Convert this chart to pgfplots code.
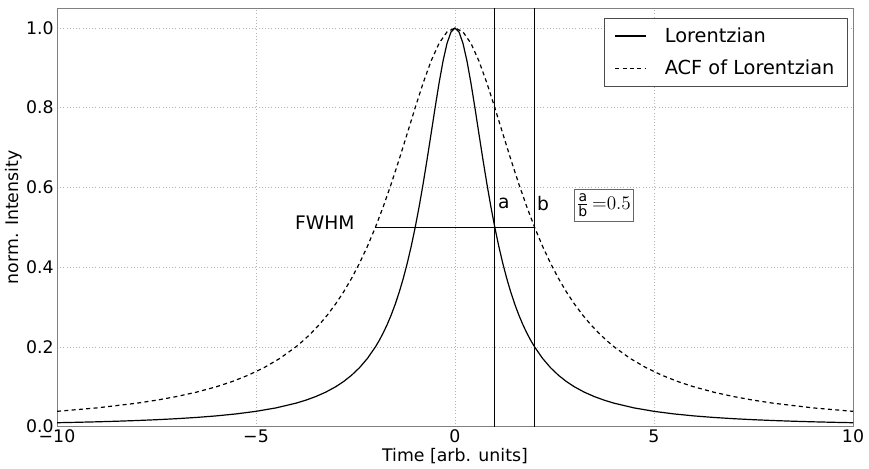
\documentclass[border=0pt]{standalone}
\usepackage{pgfplots}
\pgfplotsset{compat=1.18}
\usepackage{amsmath}
\usepackage{fontspec}
\setmainfont{DejaVu Sans}
\begin{document}
\begin{tikzpicture}
\begin{axis}[
  scale only axis,
  width=597pt, height=314pt,
  xmin=-10, xmax=10, ymin=0, ymax=1.05,
  xtick={-10,-5,0,5,10},
  xticklabels={−10,−5,0,5,10},
  ytick={0,0.2,0.4,0.6,0.8,1.0},
  yticklabel style={xshift=1pt, /pgf/number format/.cd, fixed, fixed zerofill, precision=1},
  /pgf/number format/assume math mode=true,
  ticklabel style={font=\fontsize{13}{15}\selectfont},
  label style={font=\fontsize{13}{15}\selectfont},
  xticklabel style={yshift=1.5pt},
  xlabel={Time [arb. units]},
  ylabel={norm. Intensity},
  xlabel style={yshift=2.5pt},
  ylabel style={yshift=-4pt},
  grid=major,
  major grid style={dotted, gray!60},
  axis line style={gray},
  tick style={draw=none},
  legend style={at={(1,1)}, anchor=north east, xshift=-3.75pt, yshift=-7.5pt,
    draw=black!70, font=\fontsize{14.5}{17}\selectfont, inner xsep=8pt, inner ysep=5pt,
    row sep=8pt, column sep=12pt},
  legend cell align=left,
  legend image code/.code={\draw[#1] (0cm,0cm) -- (0.8cm,0cm);},
]
\addplot[black, line width=0.9pt] coordinates {
(-10,0.009901)(-9.5,0.010959)(-9,0.012195)(-8.5,0.013652)(-8,0.015385)(-7.5,0.017467)(-7,0.02)(-6.5,0.023121)(-6,0.027027)(-5.5,0.032)(-5,0.038462)(-4.5,0.047059)(-4,0.058824)(-3.75,0.066390)(-3.5,0.075472)(-3.25,0.086486)(-3,0.1)(-2.8,0.113122)(-2.6,0.128866)(-2.4,0.147929)(-2.2,0.171233)(-2,0.2)(-1.9,0.216920)(-1.8,0.235849)(-1.7,0.257069)(-1.6,0.280899)(-1.5,0.307692)(-1.4,0.337838)(-1.3,0.371747)(-1.2,0.409836)(-1.1,0.452489)(-1,0.5)(-0.9,0.552486)(-0.8,0.609756)(-0.7,0.671141)(-0.6,0.735294)(-0.5,0.8)(-0.4,0.862069)(-0.3,0.917431)(-0.2,0.961538)(-0.1,0.990099)(0,1)
(0.1,0.990099)(0.2,0.961538)(0.3,0.917431)(0.4,0.862069)(0.5,0.8)(0.6,0.735294)(0.7,0.671141)(0.8,0.609756)(0.9,0.552486)(1,0.5)(1.1,0.452489)(1.2,0.409836)(1.3,0.371747)(1.4,0.337838)(1.5,0.307692)(1.6,0.280899)(1.7,0.257069)(1.8,0.235849)(1.9,0.216920)(2,0.2)(2.2,0.171233)(2.4,0.147929)(2.6,0.128866)(2.8,0.113122)(3,0.1)(3.25,0.086486)(3.5,0.075472)(3.75,0.066390)(4,0.058824)(4.5,0.047059)(5,0.038462)(5.5,0.032)(6,0.027027)(6.5,0.023121)(7,0.02)(7.5,0.017467)(8,0.015385)(8.5,0.013652)(9,0.012195)(9.5,0.010959)(10,0.009901)
};
\addlegendentry{Lorentzian}
\addplot[black, line width=0.9pt, dash pattern=on 3pt off 2.5pt] coordinates {
(-10,0.038462)(-9,0.047059)(-8,0.058824)(-7.5,0.066390)(-7,0.075472)(-6.5,0.086486)(-6,0.1)(-5.6,0.113122)(-5.2,0.128866)(-4.8,0.147929)(-4.4,0.171233)(-4,0.2)(-3.8,0.216920)(-3.6,0.235849)(-3.4,0.257069)(-3.2,0.280899)(-3,0.307692)(-2.8,0.337838)(-2.6,0.371747)(-2.4,0.409836)(-2.2,0.452489)(-2,0.5)(-1.8,0.552486)(-1.6,0.609756)(-1.4,0.671141)(-1.2,0.735294)(-1,0.8)(-0.8,0.862069)(-0.6,0.917431)(-0.4,0.961538)(-0.2,0.990099)(0,1)
(0.2,0.990099)(0.4,0.961538)(0.6,0.917431)(0.8,0.862069)(1,0.8)(1.2,0.735294)(1.4,0.671141)(1.6,0.609756)(1.8,0.552486)(2,0.5)(2.2,0.452489)(2.4,0.409836)(2.6,0.371747)(2.8,0.337838)(3,0.307692)(3.2,0.280899)(3.4,0.257069)(3.6,0.235849)(3.8,0.216920)(4,0.2)(4.4,0.171233)(4.8,0.147929)(5.2,0.128866)(5.6,0.113122)(6,0.1)(6.5,0.086486)(7,0.075472)(7.5,0.066390)(8,0.058824)(9,0.047059)(10,0.038462)
};
\addlegendentry{ACF of Lorentzian}
\addplot[black, line width=0.8pt, forget plot] coordinates {(1,0)(1,1.05)};
\addplot[black, line width=0.8pt, forget plot] coordinates {(2,0)(2,1.05)};
\addplot[black, line width=0.9pt, forget plot] coordinates {(-2,0.5)(2,0.5)};
\node[font=\fontsize{14}{16}\selectfont] at (axis cs:-3.27,0.512) {FWHM};
\node[font=\fontsize{14}{16}\selectfont] at (axis cs:1.23,0.56) {a};
\node[font=\fontsize{14}{16}\selectfont] at (axis cs:2.21,0.56) {b};
\node[draw=black!60, inner xsep=2pt, inner ysep=3.5pt, font=\fontsize{15}{17}\selectfont] at (axis cs:3.74,0.555) {$\frac{\text{a}}{\text{b}}\,{=}0.5$};
\end{axis}
\pgfresetboundingbox
\path[use as bounding box] ([xshift=-42.75pt,yshift=-31.5pt]current axis.south west) rectangle ([xshift=12pt,yshift=6pt]current axis.north east);
\end{tikzpicture}
\end{document}
